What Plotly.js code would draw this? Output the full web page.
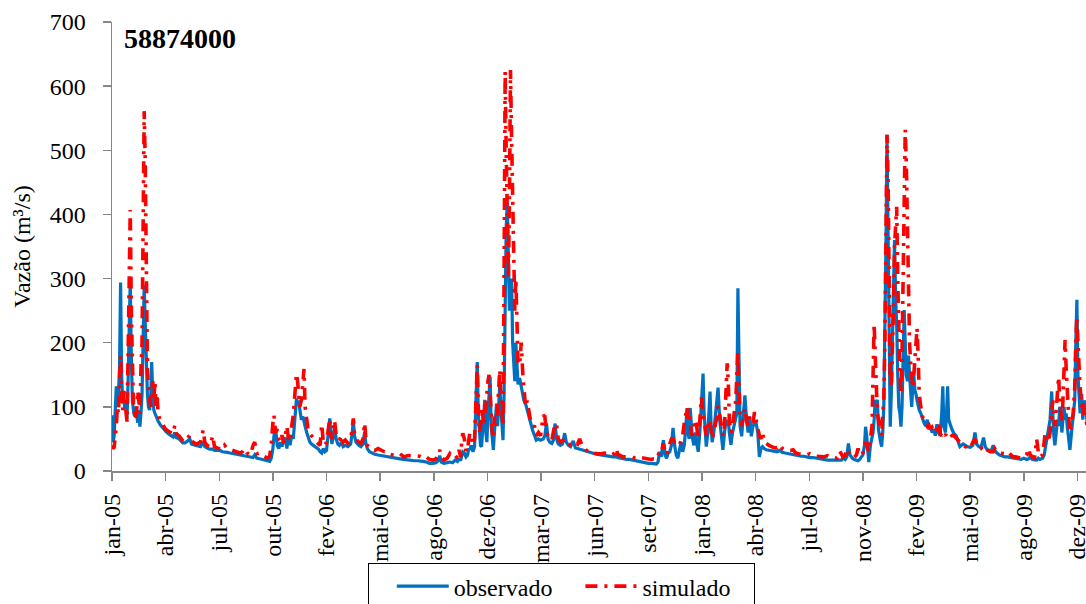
<!DOCTYPE html>
<html>
<head>
<meta charset="utf-8">
<script src="https://cdn.plot.ly/plotly-3.0.1.min.js"></script>
<style>
html, body { margin: 0; padding: 0; overflow: hidden; background: #fff; }
#chart { width: 1086px; height: 604px; }
</style>
</head>
<body>
<div id="chart"></div>
<script>
// Days since 1 Jan 2005
const dias = [
0,2,4,6,8,10,12,14,16,18,
20,22,24,26,28,30,32,34,36,38,
40,42,44,46,48,50,52,54,56,58,
60,62,64,66,68,70,72,74,76,78,
80,82,84,86,90,95,100,105,110,114,
117,120,125,129,132,136,140,145,148,152,
156,160,165,170,173,177,182,188,191,196,
201,206,210,215,220,226,232,238,243,247,
252,258,263,266,270,275,280,285,290,294,
297,300,302,305,308,311,314,317,320,323,
326,329,332,335,338,341,344,346,348,350,
353,356,358,360,363,366,369,372,375,378,
381,385,388,391,394,397,400,403,406,408,
410,413,415,418,421,424,428,431,435,440,
445,448,450,452,455,460,464,468,471,473,
476,480,485,490,496,502,508,513,518,524,
530,537,544,552,558,564,570,574,580,586,
592,598,604,608,611,614,619,625,630,635,
640,644,647,650,652,654,657,660,663,665,
667,670,673,676,679,681,683,685,687,689,
691,693,695,697,699,701,703,705,707,709,
711,713,715,717,719,721,723,725,727,729,
731,733,735,737,739,741,743,745,747,749,
751,753,755,757,760,763,766,768,771,774,
778,781,784,788,791,795,799,804,807,810,
813,816,820,823,826,829,832,836,840,844,
847,851,855,860,864,868,872,876,880,885,
890,895,900,906,912,918,923,929,934,938,
940,943,948,952,956,960,965,970,975,980,
985,990,995,1000,1005,1010,1015,1018,1021,1024,
1028,1031,1034,1037,1040,1043,1046,1049,1052,1055,
1058,1061,1064,1067,1070,1072,1074,1076,1078,1080,
1082,1085,1088,1090,1093,1096,1099,1102,1104,1106,
1108,1111,1113,1115,1117,1119,1122,1125,1128,1130,
1133,1136,1139,1142,1145,1147,1149,1151,1154,1157,
1160,1163,1165,1167,1169,1171,1174,1177,1180,1183,
1186,1189,1192,1195,1198,1201,1204,1207,1210,1213,
1216,1220,1225,1230,1235,1240,1245,1250,1255,1260,
1265,1270,1275,1280,1285,1290,1295,1301,1307,1313,
1320,1327,1334,1340,1346,1352,1357,1360,1363,1367,
1370,1373,1376,1380,1384,1388,1391,1394,1397,1400,
1403,1405,1407,1409,1411,1414,1417,1419,1421,1423,
1425,1427,1429,1431,1433,1435,1437,1439,1441,1443,
1445,1447,1449,1451,1453,1455,1457,1459,1461,1463,
1465,1467,1469,1471,1473,1475,1477,1479,1481,1483,
1485,1487,1489,1491,1493,1495,1497,1499,1501,1503,
1505,1508,1511,1514,1517,1520,1523,1526,1529,1532,
1535,1538,1541,1544,1547,1549,1551,1554,1556,1558,
1560,1563,1566,1570,1574,1578,1581,1584,1587,1591,
1595,1600,1605,1609,1612,1616,1620,1625,1628,1632,
1637,1640,1643,1646,1650,1655,1660,1665,1670,1675,
1680,1685,1690,1695,1700,1705,1709,1712,1716,1720,
1724,1727,1730,1735,1738,1740,1743,1746,1749,1752,
1754,1756,1758,1760,1763,1765,1767,1769,1771,1773,
1775,1777,1779,1781,1784,1786,1789,1792,1795,1797,
1799,1801,1803,1805,1808,1810,1812,1815,1818,1822,
1825
];

const observado = [
87,45,55,90,132,105,120,160,294,150,
105,115,95,110,82,140,220,296,180,110,
95,85,100,90,75,95,69,90,120,200,
290,230,150,120,100,95,110,170,120,95,
90,85,80,78,72,66,62,58,55,53,
60,52,50,47,44,44,46,50,42,41,
40,40,38,45,38,36,34,34,32,32,
32,30,30,29,28,27,26,25,25,24,
23,22,21,25,20,19,18,16,15,15,
20,35,55,67,40,35,45,38,48,52,
35,55,40,56,50,90,113,105,110,97,
80,85,75,70,60,50,45,42,40,38,
36,34,30,28,35,30,32,55,82,60,
42,55,69,50,42,40,45,38,40,38,
42,60,80,55,45,40,38,42,61,45,
35,30,28,26,25,24,23,22,21,21,
20,19,18,17,17,16,16,16,15,14,
12,12,13,16,24,14,12,13,14,13,
17,15,20,16,25,30,28,22,25,35,
33,40,30,38,120,170,90,50,40,38,
60,80,111,60,45,90,130,147,70,45,
33,60,90,105,70,100,135,100,60,48,
120,300,380,418,330,250,280,300,200,170,
140,200,160,135,145,130,120,110,105,95,
85,70,64,55,48,50,48,50,55,74,
50,45,43,48,74,50,42,40,42,59,
45,40,38,47,36,35,34,33,31,30,
29,28,27,26,25,24,24,23,22,22,
27,21,20,19,19,18,18,17,16,15,
14,13,13,12,12,11,11,14,30,22,
48,25,20,28,30,40,67,40,25,20,
35,45,30,40,70,98,60,50,98,70,
52,40,60,45,30,60,100,152,90,50,
38,60,100,124,70,45,60,90,115,130,
80,50,33,60,80,70,80,60,41,60,
70,80,90,285,150,70,54,80,118,80,
60,85,54,70,74,74,60,22,35,38,
35,33,32,31,30,30,32,29,28,27,
26,25,24,24,23,23,22,21,21,20,
19,18,17,17,17,16,16,17,20,18,
22,43,25,20,18,17,16,18,22,25,
40,69,55,30,14,40,50,60,80,111,
100,111,65,50,45,38,60,100,200,350,
524,400,200,69,120,200,280,360,270,230,
150,100,90,69,100,180,251,200,150,140,
180,150,120,100,130,150,125,120,110,100,
95,90,80,75,70,80,65,70,60,65,
55,73,60,55,90,132,70,60,90,132,
80,70,65,58,55,45,38,40,42,40,
38,37,40,60,42,38,36,52,38,33,
32,33,40,32,28,25,23,22,22,21,
20,20,19,18,20,18,19,22,18,18,
17,20,18,20,25,35,50,60,80,124,
80,55,40,60,80,70,100,90,60,80,
100,80,90,70,50,33,60,90,110,200,
267,150,110,90,120,80,100,110,75,60,
55
];

const simulado = [
40,35,37,52,70,100,90,140,180,120,
95,125,110,90,77,180,300,407,250,160,
100,90,80,95,125,110,90,160,200,380,
561,480,300,160,130,110,100,120,140,110,
140,100,120,90,78,72,65,62,60,58,
71,58,55,50,47,45,50,56,47,44,
42,43,45,64,45,40,38,55,38,36,
35,33,40,35,34,32,30,28,30,35,
28,25,40,45,27,28,24,22,20,23,
43,75,87,60,65,50,45,56,44,55,
70,50,45,70,87,120,152,140,120,100,
110,140,159,100,81,62,58,55,50,48,
45,42,40,73,45,40,45,70,82,55,
50,65,79,55,52,48,56,45,48,43,
48,70,82,60,50,45,43,50,75,55,
40,35,33,32,35,33,30,30,26,25,
24,27,22,24,24,23,24,23,20,22,
18,17,19,25,33,22,17,20,27,22,
24,20,33,22,45,59,50,30,35,45,
59,57,40,50,130,165,100,60,70,100,
90,70,85,110,130,140,150,110,80,60,
50,85,70,80,100,140,158,120,90,70,
300,623,500,400,300,420,625,520,400,320,
250,300,200,170,165,200,150,120,100,110,
90,75,70,69,55,60,55,87,85,60,
55,50,48,60,74,72,50,45,48,50,
47,43,40,40,44,42,50,40,35,32,
28,28,27,27,27,28,27,25,25,30,
35,26,24,22,22,22,22,22,20,19,
21,20,19,18,18,19,18,24,30,28,
43,30,25,35,45,50,50,45,45,45,
40,50,55,75,90,80,98,90,70,60,
55,65,80,70,50,80,115,90,80,70,
55,65,80,75,55,50,60,70,85,101,
90,70,55,70,120,168,140,80,60,70,
90,110,150,189,130,90,70,85,98,80,
70,85,80,75,92,80,70,55,50,60,
45,42,40,38,36,36,41,35,33,33,
32,33,28,27,26,26,25,27,24,23,
22,22,24,21,20,20,31,25,22,24,
35,30,24,22,21,25,35,25,25,28,
35,45,40,35,30,50,70,150,230,180,
110,90,80,70,60,55,90,110,200,350,
524,450,250,150,130,180,250,350,380,412,
300,200,150,120,180,300,450,532,480,350,
250,200,170,150,130,150,180,200,223,180,
120,100,85,80,75,70,72,65,68,62,
60,70,75,58,55,60,58,55,60,62,
60,58,55,55,52,48,45,45,40,38,
36,35,45,50,40,36,35,40,35,32,
30,30,30,35,30,28,28,27,30,25,
22,22,21,20,22,25,35,25,22,20,
50,30,22,25,45,60,55,45,60,95,
110,80,70,90,130,147,110,90,75,110,
170,204,160,120,80,60,70,90,130,200,
241,200,150,130,100,110,90,80,70,60,
55
];

const rotulosX = ['jan-05','abr-05','jul-05','out-05','fev-06','mai-06','ago-06','dez-06','mar-07','jun-07','set-07','jan-08','abr-08','jul-08','nov-08','fev-09','mai-09','ago-09','dez-09'];
const passoTicks = 100; // Excel date axis: major unit of 100 days
const posX = rotulosX.map((_, i) => i * passoTicks);

const serif = 'Liberation Serif';
const axisGray = '#868686';
const nb = '\u00a0';

const traces = [
  { x: dias, y: observado, type: 'scatter', mode: 'lines', name: 'observado',
    line: { color: '#0070C0', width: 3.2 } },
  { x: dias, y: simulado, type: 'scatter', mode: 'lines', name: 'simulado' + nb + nb + nb,
    line: { color: '#FF0000', width: 3.6, dash: '12px,7px,3px,7px' } }
];

const layout = {
  width: 1086, height: 604,
  margin: { l: 112, r: 0, t: 22, b: 133, autoexpand: false },
  paper_bgcolor: '#ffffff', plot_bgcolor: '#ffffff',
  font: { family: serif, color: '#000' },
  showlegend: true,
  title: { text: '<b>58874000</b>', font: { family: serif, size: 28, color: '#000' },
           xref: 'container', yref: 'container', x: 124/1086, xanchor: 'left',
           y: 1 - 38/604, yanchor: 'middle' },
  xaxis: {
    range: [0, 1816], tickmode: 'array', tickvals: posX, ticktext: rotulosX,
    tickangle: -90, ticks: 'outside', ticklen: 8, tickcolor: axisGray, tickwidth: 1.5,
    showline: true, linecolor: axisGray, linewidth: 1.5,
    showgrid: false, zeroline: false, ticklabeloverflow: 'allow',
    tickfont: { family: serif, size: 24, color: '#000' }, ticklabelstandoff: 4
  },
  yaxis: {
    range: [0, 700], tickmode: 'linear', tick0: 0, dtick: 100,
    ticks: 'outside', ticklen: 8, tickcolor: axisGray, tickwidth: 1.5,
    showline: true, linecolor: axisGray, linewidth: 1.5,
    showgrid: false, zeroline: false,
    tickfont: { family: serif, size: 24, color: '#000' }, ticklabelstandoff: 12,
    title: { text: 'Vazão (m³/s)', font: { family: serif, size: 24, color: '#000' }, standoff: 12 }
  },
  legend: {
    orientation: 'h', x: 0.2626, xanchor: 'left', y: -0.205, yanchor: 'top',
    bordercolor: '#000', borderwidth: 1, bgcolor: '#fff',
    indentation: 23, itemwidth: 52,
    font: { family: serif, size: 24, color: '#000' }
  }
};

Plotly.newPlot('chart', traces, layout, { staticPlot: true, displayModeBar: false });
</script>
</body>
</html>
